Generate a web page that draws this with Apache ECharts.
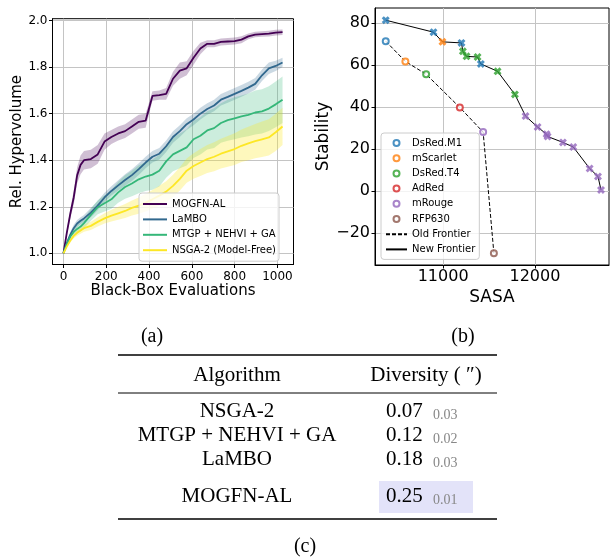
<!DOCTYPE html>
<html>
<head>
<meta charset="utf-8">
<script src="https://cdn.jsdelivr.net/npm/echarts@6/dist/echarts.min.js"></script>
<style>
html, body { margin: 0; padding: 0; background: #fff; }
#main { width: 610px; height: 559px; }
</style>
</head>
<body>
<div id="main"></div>
<script>
// (a) relative hypervolume vs black-box evaluations
var evals = [0,16,32,48,64,80,96,128,160,192,224,256,288,320,352,384,416,448,480,512,544,576,608,640,672,704,736,768,800,832,864,896,928,960,992,1024];
var mogfnMean = [1.000,1.090,1.170,1.240,1.335,1.380,1.400,1.405,1.425,1.480,1.500,1.515,1.525,1.545,1.565,1.570,1.676,1.680,1.685,1.750,1.785,1.795,1.840,1.880,1.900,1.900,1.908,1.910,1.912,1.918,1.932,1.940,1.942,1.944,1.948,1.950];
var mogfnStd  = [0,0.010,0.020,0.030,0.035,0.040,0.040,0.040,0.040,0.035,0.030,0.030,0.030,0.030,0.030,0.030,0.020,0.020,0.025,0.030,0.035,0.030,0.030,0.025,0.015,0.015,0.015,0.015,0.015,0.015,0.012,0.012,0.012,0.012,0.012,0.012];
var lamboMean = [1.000,1.045,1.080,1.108,1.128,1.140,1.150,1.175,1.205,1.240,1.268,1.292,1.315,1.336,1.362,1.390,1.415,1.428,1.460,1.500,1.525,1.555,1.575,1.600,1.620,1.635,1.660,1.672,1.685,1.698,1.712,1.728,1.765,1.795,1.805,1.820];
var lamboStd  = [0,0.008,0.012,0.015,0.015,0.015,0.015,0.020,0.020,0.020,0.020,0.022,0.025,0.025,0.025,0.025,0.025,0.025,0.025,0.025,0.025,0.025,0.025,0.025,0.025,0.025,0.025,0.025,0.025,0.025,0.025,0.025,0.025,0.025,0.022,0.020];
var mtgpMean  = [1.000,1.040,1.072,1.092,1.105,1.115,1.130,1.165,1.198,1.215,1.232,1.262,1.285,1.300,1.318,1.330,1.338,1.355,1.395,1.425,1.440,1.455,1.490,1.505,1.528,1.538,1.560,1.572,1.580,1.588,1.595,1.605,1.610,1.622,1.640,1.660];
var mtgpStd   = [0,0.008,0.012,0.015,0.020,0.020,0.022,0.025,0.030,0.035,0.040,0.045,0.050,0.055,0.060,0.062,0.065,0.068,0.070,0.072,0.075,0.078,0.080,0.080,0.082,0.085,0.085,0.088,0.090,0.090,0.092,0.094,0.095,0.096,0.098,0.100];
var nsgaMean  = [1.000,1.030,1.055,1.075,1.088,1.098,1.108,1.118,1.135,1.150,1.162,1.172,1.182,1.195,1.205,1.218,1.232,1.248,1.265,1.290,1.320,1.355,1.375,1.390,1.405,1.415,1.428,1.438,1.448,1.462,1.472,1.482,1.490,1.498,1.520,1.545];
var nsgaStd   = [0,0.005,0.008,0.010,0.012,0.014,0.015,0.018,0.020,0.022,0.025,0.028,0.030,0.032,0.035,0.038,0.040,0.042,0.045,0.048,0.050,0.052,0.055,0.058,0.060,0.062,0.064,0.066,0.068,0.070,0.072,0.074,0.076,0.078,0.080,0.080];
var hvTicksX = [0, 200, 400, 600, 800, 1000];
var hvTicksY = [1.0, 1.2, 1.4, 1.6, 1.8, 2.0];

// (b) stability vs SASA frontiers
var proteinNames = ['DsRed.M1', 'mScarlet', 'DsRed.T4', 'AdRed', 'mRouge', 'RFP630'];
var oldSasa      = [10375, 10589, 10815, 11182, 11436, 11553];
var oldStability = [71.3, 61.7, 55.6, 39.8, 28.1, -29.5];
var newSasa      = [10375, 10895, 10993, 11200, 11215, 11255, 11375, 11411, 11593, 11782, 11898, 12029, 12127, 12138, 12305, 12418, 12596, 12687, 12720];
var newStability = [81.3, 75.6, 71.0, 70.5, 66.5, 64.1, 63.8, 60.5, 57.0, 46.0, 35.7, 30.5, 27.1, 26.0, 23.2, 21.0, 10.8, 7.0, 0.6];
var newFamily    = ['DsRed.M1', 'DsRed.M1', 'mScarlet', 'DsRed.M1', 'DsRed.T4', 'DsRed.T4', 'DsRed.T4', 'DsRed.M1', 'DsRed.T4', 'DsRed.T4',
                    'mRouge', 'mRouge', 'mRouge', 'mRouge', 'mRouge', 'mRouge', 'mRouge', 'mRouge', 'mRouge'];
var sasaTicks = [11000, 12000];
var stabTicks = [-20, 0, 20, 40, 60, 80];

// (c) diversity table
var algorithms   = ['NSGA-2', 'MTGP + NEHVI + GA', 'LaMBO', 'MOGFN-AL'];
var diversity    = ['0.07', '0.12', '0.18', '0.25'];
var diversityStd = ['0.03', '0.02', '0.03', '0.01'];

var proteinColors = {
  'DsRed.M1': '#1f77b4', 'mScarlet': '#ff7f0e', 'DsRed.T4': '#2ca02c',
  'AdRed': '#d62728', 'mRouge': '#9467bd', 'RFP630': '#8c564b'
};
var SANS = 'DejaVu Sans';
var SERIF = 'Liberation Serif';
var gridColor = '#c4c4c4';

function pairs(xs, ys) {
  return xs.map(function (x, i) { return [x, ys[i]]; });
}

function band(mean, sd, fill) {
  return {
    type: 'custom', xAxisIndex: 0, yAxisIndex: 0, silent: true, z: 1, clip: true,
    data: evals.map(function (x, i) { return [x, mean[i] - sd[i], mean[i] + sd[i]]; }),
    encode: { x: 0, y: [1, 2] },
    renderItem: function (params, api) {
      if (params.dataIndex !== 0) return null;
      var pts = [];
      for (var i = 0; i < evals.length; i++) pts.push(api.coord([evals[i], mean[i] - sd[i]]));
      for (var j = evals.length - 1; j >= 0; j--) pts.push(api.coord([evals[j], mean[j] + sd[j]]));
      return { type: 'polygon', shape: { points: pts }, style: { fill: fill } };
    }
  };
}

function curve(name, mean, color) {
  return {
    name: name, type: 'line', xAxisIndex: 0, yAxisIndex: 0, z: 3,
    data: pairs(evals, mean), symbol: 'none', showSymbol: false,
    lineStyle: { color: color, width: 1.8 }, itemStyle: { color: color }
  };
}

function plain(v) { return String(v).replace('-', '\u2212'); }

function axisCommon(extra) {
  var a = {
    axisLine: { show: true, onZero: false, lineStyle: { color: '#000', width: 1 } },
    splitLine: { show: true, lineStyle: { color: gridColor, width: 1 } }
  };
  for (var k in extra) a[k] = extra[k];
  return a;
}

var chart = echarts.init(document.getElementById('main'));

var series = [
  band(mogfnMean, mogfnStd, 'rgba(68,1,84,0.25)'),
  band(lamboMean, lamboStd, 'rgba(49,104,142,0.25)'),
  band(mtgpMean, mtgpStd, 'rgba(53,183,121,0.25)'),
  band(nsgaMean, nsgaStd, 'rgba(253,231,37,0.3)'),
  curve('MOGFN-AL', mogfnMean, '#440154'),
  curve('LaMBO', lamboMean, '#31688e'),
  curve('MTGP + NEHVI + GA', mtgpMean, '#35b779'),
  curve('NSGA-2 (Model-Free)', nsgaMean, '#fde725'),
  {
    name: 'Old Frontier', type: 'line', xAxisIndex: 1, yAxisIndex: 1, z: 2,
    data: pairs(oldSasa, oldStability), symbol: 'none',
    lineStyle: { color: '#000', width: 1, type: [4, 2] }, itemStyle: { color: '#000' }
  },
  {
    name: 'New Frontier', type: 'line', xAxisIndex: 1, yAxisIndex: 1, z: 2,
    data: pairs(newSasa, newStability), symbol: 'none',
    lineStyle: { color: '#000', width: 1 }, itemStyle: { color: '#000' }
  },
  {
    name: 'designed', type: 'scatter', xAxisIndex: 1, yAxisIndex: 1, z: 4,
    data: pairs(newSasa, newStability),
    symbol: 'path://M0,2.6 L2.6,0 L5,2.4 L7.4,0 L10,2.6 L7.6,5 L10,7.4 L7.4,10 L5,7.6 L2.6,10 L0,7.4 L2.4,5 Z',
    symbolSize: 8,
    itemStyle: { color: function (p) { return proteinColors[newFamily[p.dataIndex]]; } }
  }
];

proteinNames.forEach(function (name, i) {
  series.push({
    name: name, type: 'scatter', xAxisIndex: 1, yAxisIndex: 1, z: 5,
    data: [[oldSasa[i], oldStability[i]]],
    symbol: 'circle', symbolSize: 6,
    itemStyle: { color: '#fff', borderColor: proteinColors[name], borderWidth: 2 }
  });
});

// table graphics
var graphics = [];
function txt(x, y, s, size, align, color, family) {
  graphics.push({
    type: 'text', z: 10,
    style: { x: x, y: y, text: s, textAlign: align || 'center', textVerticalAlign: 'middle',
             fontSize: size, fontFamily: family || SERIF, fill: color || '#000' }
  });
}
function rule(y, w) {
  graphics.push({ type: 'line', z: 10, shape: { x1: 118, y1: y, x2: 497, y2: y },
                  style: { stroke: '#000', lineWidth: w } });
}
graphics.push({ type: 'rect', z: 9, shape: { x: 379, y: 481, width: 94, height: 32 },
                style: { fill: '#e3e3f9' } });
rule(355, 1.6);
rule(393, 1);
rule(519, 1.6);
txt(237, 375, 'Algorithm', 21);
txt(426, 375, 'Diversity ( \u2033)', 21);
var rowY = [411, 435, 459, 496];
algorithms.forEach(function (a, i) {
  txt(237, rowY[i], a, 21);
  txt(386, rowY[i], diversity[i], 21, 'left');
  txt(433, rowY[i] + 4, diversityStd[i], 14, 'left', '#888');
});
txt(152, 337, '(a)', 20);
txt(463, 337, '(b)', 20);
txt(305, 547, '(c)', 20);

var lineLegendStyle = { color: 'rgba(0,0,0,0)', borderWidth: 0 };

chart.setOption({
  animation: false,
  backgroundColor: '#fff',
  textStyle: { fontFamily: SANS },
  grid: [
    { left: 52.5, top: 18.7, width: 241, height: 245.8, show: true, borderColor: '#000', borderWidth: 1 },
    { left: 375, top: 8, width: 234, height: 257, show: true, borderColor: '#000', borderWidth: 1 }
  ],
  xAxis: [
    axisCommon({
      type: 'value', gridIndex: 0, min: -51.2, max: 1075.2,
      axisTick: { show: true, length: 3.5, lineStyle: { color: '#000' }, customValues: hvTicksX },
      axisLabel: { customValues: hvTicksX, fontSize: 12, color: '#000', margin: 6, fontFamily: SANS, formatter: plain },
      name: 'Black-Box Evaluations', nameLocation: 'middle', nameGap: 17,
      nameTextStyle: { fontSize: 15, color: '#000', fontFamily: SANS }
    }),
    axisCommon({
      type: 'value', gridIndex: 1, min: 10258, max: 12807,
      axisTick: { show: true, length: 3.5, lineStyle: { color: '#000' }, customValues: sasaTicks },
      axisLabel: { customValues: sasaTicks, fontSize: 16, color: '#000', margin: 4, fontFamily: SANS, formatter: plain },
      name: 'SASA', nameLocation: 'middle', nameGap: 24,
      nameTextStyle: { fontSize: 17, color: '#000', fontFamily: SANS }
    })
  ],
  yAxis: [
    axisCommon({
      type: 'value', gridIndex: 0, min: 0.952, max: 2.008,
      axisTick: { show: true, length: 3.5, lineStyle: { color: '#000' }, customValues: hvTicksY },
      axisLabel: { customValues: hvTicksY, fontSize: 12, color: '#000', margin: 5, fontFamily: SANS,
                   formatter: function (v) { return v.toFixed(1); } },
      name: 'Rel. Hypervolume', nameLocation: 'middle', nameGap: 27, nameRotate: 90,
      nameTextStyle: { fontSize: 15, color: '#000', fontFamily: SANS }
    }),
    axisCommon({
      type: 'value', gridIndex: 1, min: -35.1, max: 87.1,
      axisTick: { show: true, length: 3.5, lineStyle: { color: '#000' }, customValues: stabTicks },
      axisLabel: { customValues: stabTicks, fontSize: 16, color: '#000', margin: 5, fontFamily: SANS, formatter: plain },
      name: 'Stability', nameLocation: 'middle', nameGap: 43, nameRotate: 90,
      nameTextStyle: { fontSize: 17, color: '#000', fontFamily: SANS }
    })
  ],
  legend: [
    {
      data: ['MOGFN-AL', 'LaMBO', 'MTGP + NEHVI + GA', 'NSGA-2 (Model-Free)'],
      left: 139, top: 193, orient: 'vertical', icon: 'rect',
      itemWidth: 24, itemHeight: 2, itemGap: 3.4, padding: [5, 3, 5, 4],
      textStyle: { fontSize: 10, lineHeight: 12, color: '#000', fontFamily: SANS },
      backgroundColor: 'rgba(255,255,255,0.8)', borderColor: '#cccccc', borderWidth: 1, borderRadius: 3,
      selectedMode: false
    },
    {
      data: proteinNames.concat([
        { name: 'Old Frontier', itemStyle: lineLegendStyle },
        { name: 'New Frontier', itemStyle: lineLegendStyle }
      ]),
      left: 381, top: 133, orient: 'vertical',
      itemWidth: 21, itemHeight: 6, itemGap: 3.2, padding: [4, 4, 4, 4],
      textStyle: { fontSize: 10, lineHeight: 12, color: '#000', fontFamily: SANS },
      backgroundColor: 'rgba(255,255,255,0.8)', borderColor: '#cccccc', borderWidth: 1, borderRadius: 3,
      selectedMode: false
    }
  ],
  graphic: graphics,
  series: series
});
</script>
</body>
</html>
